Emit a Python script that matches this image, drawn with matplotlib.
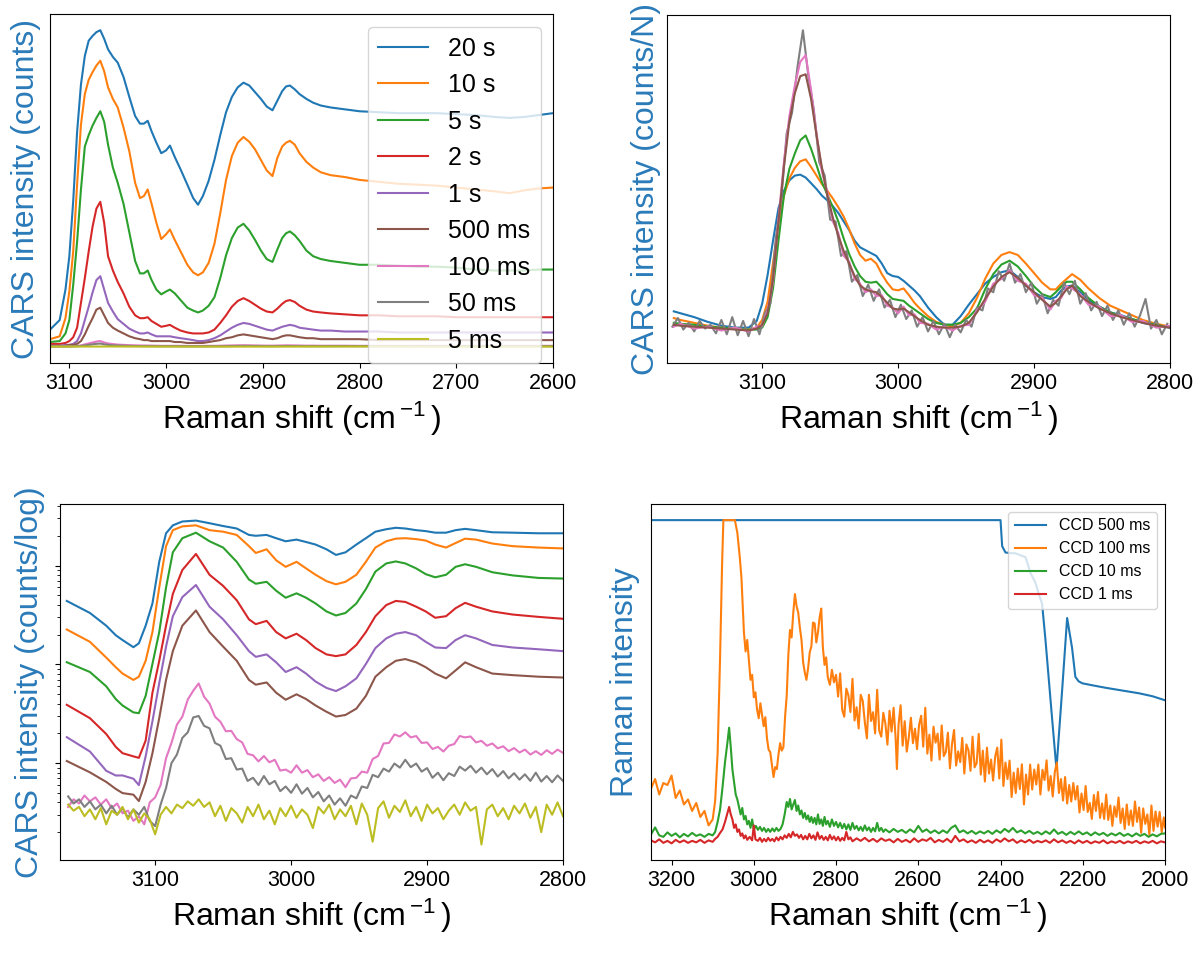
import matplotlib
matplotlib.use("Agg")
import matplotlib.pyplot as plt
from matplotlib.ticker import NullFormatter

plt.rcParams['font.family'] = ['Liberation Sans', 'DejaVu Sans']
plt.rcParams['mathtext.fontset'] = 'custom'
plt.rcParams['mathtext.rm'] = 'Liberation Sans'
plt.rcParams['mathtext.it'] = 'Liberation Sans:italic'
plt.rcParams['mathtext.bf'] = 'Liberation Sans:bold'

# ---------------- Panel 1 (CARS counts) ----------------
p1_x = [3120, 3110, 3104, 3100, 3096, 3092, 3088, 3084, 3080, 3076,
        3072, 3068, 3064, 3060, 3055, 3050, 3044, 3038, 3032, 3027,
        3023, 3019, 3015, 3010, 3005, 3000, 2996, 2991, 2985, 2978,
        2972, 2967, 2962, 2956, 2950, 2944, 2938, 2932, 2926, 2920,
        2914, 2908, 2902, 2896, 2890, 2885, 2880, 2876, 2872, 2867,
        2862, 2855, 2848, 2840, 2830, 2815, 2800, 2780, 2760, 2740,
        2720, 2700, 2680, 2660, 2645, 2630, 2615, 2600]
p1_20s = [18, 28, 60, 95, 153, 225, 275, 305, 321, 326,
          330, 332, 323, 312, 304, 298, 283, 262, 242, 234,
          234, 237, 226, 214, 203, 206, 211, 199, 186, 170,
          156, 149, 158, 174, 196, 222, 246, 262, 272, 277,
          274, 267, 260, 252, 248, 258, 268, 273, 274, 270,
          265, 260, 256, 253, 251, 249, 247, 246, 245, 245,
          245, 244, 243, 241, 240, 241, 243, 245]
p1_10s = [8, 11, 30, 58, 100, 170, 233, 265, 280, 288,
          295, 300, 289, 272, 260, 251, 230, 205, 172, 156,
          158, 165, 150, 130, 113, 118, 123, 112, 100, 86,
          78, 75, 78, 88, 108, 140, 175, 200, 214, 220,
          215, 207, 196, 185, 179, 198, 210, 214, 216, 212,
          203, 194, 188, 183, 180, 178, 175, 173, 171, 170,
          169, 167, 165, 163, 161, 164, 166, 167]
p1_5s = [5, 6, 14, 28, 65, 110, 165, 210, 222, 232,
         240, 247, 236, 212, 188, 172, 150, 120, 90, 77,
         77, 80, 70, 60, 55, 58, 60, 56, 49, 41,
         38, 36, 38, 43, 52, 72, 96, 114, 125, 129,
         122, 112, 101, 92, 89, 102, 114, 119, 121, 117,
         111, 101, 95, 92, 90, 88, 86, 86, 85, 84,
         84, 83, 81, 80, 80, 80, 81, 81]
p1_2s = [3, 3, 4, 6, 10, 20, 46, 72, 100, 126,
         145, 152, 130, 95, 80, 68, 56, 42, 33, 30,
         30, 31, 27, 24, 21, 22, 23, 20, 17, 15,
         14, 14, 14, 15, 18, 25, 33, 42, 48, 51,
         48, 44, 40, 37, 36, 40, 45, 48, 49, 47,
         43, 39, 37, 36, 35, 34, 33, 33, 32, 32,
         32, 31, 31, 31, 31, 31, 31, 31]
p1_1s = [1, 1, 2, 2, 3, 6, 14, 28, 42, 57,
         70, 74, 60, 46, 37, 29, 24, 19, 16, 14,
         14, 15, 13, 11, 11, 11, 11, 10, 9, 8,
         7, 6, 6, 7, 9, 12, 16, 20, 23, 25,
         24, 22, 20, 18, 17, 19, 21, 22, 23, 22,
         20, 19, 18, 17, 17, 16, 16, 16, 15, 15,
         15, 15, 15, 15, 15, 15, 15, 15]
p1_500ms = [1, 1, 1, 2, 2, 3, 6, 13, 22, 30,
            39, 41, 33, 25, 20, 17, 14, 11, 9, 8,
            7, 7, 6, 6, 6, 6, 6, 5, 5, 4,
            4, 4, 4, 5, 6, 7, 9, 10, 12, 13,
            12, 11, 10, 9, 8, 9, 11, 12, 12, 11,
            10, 9, 9, 8, 8, 8, 8, 7, 7, 7,
            7, 7, 7, 7, 7, 7, 7, 7]
p1_100ms = [0.5, 0.5, 0.5, 0.6, 0.7, 0.9, 1.5, 2.5, 3.5, 4.5,
            5.5, 6, 4.5, 3.5, 2.8, 2.3, 2, 1.7, 1.5, 1.4,
            1.3, 1.3, 1.2, 1.1, 1, 1, 1, 1, 1, 0.9,
            0.9, 0.9, 0.9, 1, 1, 1.1, 1.3, 1.4, 1.5, 1.6,
            1.5, 1.4, 1.3, 1.2, 1.2, 1.3, 1.4, 1.5, 1.5, 1.4,
            1.3, 1.2, 1.2, 1.1, 1.1, 1.1, 1, 1, 1, 1,
            1, 1, 1, 1, 1, 1, 1, 1]
p1_50ms = [0.4, 0.4, 0.4, 0.4, 0.5, 0.6, 0.9, 1.4, 2, 2.6,
           3.1, 3.4, 2.6, 2, 1.6, 1.3, 1.1, 0.9, 0.8, 0.7,
           0.7, 0.7, 0.7, 0.6, 0.6, 0.6, 0.6, 0.6, 0.5, 0.5,
           0.5, 0.5, 0.5, 0.5, 0.6, 0.6, 0.7, 0.8, 0.9, 0.9,
           0.9, 0.8, 0.8, 0.7, 0.7, 0.7, 0.8, 0.8, 0.8, 0.8,
           0.8, 0.7, 0.7, 0.7, 0.7, 0.7, 0.7, 0.7, 0.7, 0.7,
           0.7, 0.7, 0.7, 0.7, 0.7, 0.7, 0.7, 0.7]
p1_5ms_x = [3120, 3060, 3000, 2900, 2800, 2700, 2600]
p1_5ms = [0.2, 0.3, 0.2, 0.2, 0.3, 0.2, 0.2]
p1_labels = ['20 s', '10 s', '5 s', '2 s', '1 s', '500 ms', '100 ms', '50 ms', '5 ms']

# ---------------- Panel 2 (normalised) ----------------
p2_x = [3165, 3160, 3150, 3140, 3130, 3120, 3110, 3104, 3100, 3096,
        3092, 3088, 3084, 3080, 3076, 3072, 3068, 3064, 3060, 3056,
        3052, 3048, 3044, 3040, 3036, 3032, 3028, 3024, 3020, 3016,
        3012, 3008, 3004, 3000, 2996, 2992, 2988, 2984, 2978, 2972,
        2966, 2960, 2954, 2948, 2942, 2936, 2930, 2924, 2918, 2912,
        2906, 2900, 2894, 2888, 2884, 2880, 2876, 2872, 2866, 2860,
        2852, 2844, 2836, 2828, 2820, 2810, 2800]
p2_20s = [54, 52, 48, 43, 39, 37, 37, 44, 62, 92,
          128, 162, 180, 191, 196, 197, 194, 188, 182, 175,
          170, 164, 157, 148, 139, 128, 121, 118, 115, 112,
          104, 94, 91, 90, 86, 81, 76, 70, 58, 48,
          40, 40, 49, 61, 72, 83, 90, 95, 97, 90,
          81, 74, 69, 67, 69, 76, 80, 81, 74, 66,
          59, 53, 50, 46, 42, 39, 37]
p2_10s = [47, 45, 42, 39, 37, 36, 35, 37, 45, 64,
          105, 145, 175, 193, 204, 211, 213, 205, 196, 187,
          180, 172, 163, 153, 140, 125, 113, 107, 109, 104,
          93, 84, 77, 76, 78, 71, 63, 57, 49, 43,
          40, 38, 42, 52, 68, 88, 104, 113, 116, 113,
          104, 94, 84, 77, 77, 83, 88, 93, 87, 78,
          68, 60, 55, 50, 45, 41, 38]
p2_5s = [42, 41, 40, 38, 37, 36, 35, 35, 37, 48,
         78, 128, 175, 203, 219, 233, 238, 224, 207, 189,
         176, 163, 148, 130, 114, 101, 91, 85, 84, 85,
         79, 72, 67, 66, 65, 60, 56, 52, 46, 42,
         40, 40, 42, 48, 57, 77, 93, 103, 107, 101,
         91, 80, 72, 69, 74, 80, 85, 85, 77, 68,
         59, 53, 49, 46, 43, 40, 37]
p2_500ms = [40, 39, 38, 37, 36, 35, 34, 36, 40, 52,
            88, 148, 205, 252, 282, 300, 302, 276, 238, 204,
            175, 152, 133, 117, 104, 91, 81, 77, 75, 74,
            69, 63, 57, 56, 57, 53, 49, 45, 40, 38,
            37, 37, 38, 42, 53, 67, 80, 90, 95, 89,
            81, 74, 66, 59, 63, 70, 77, 81, 70, 64,
            57, 52, 48, 45, 42, 39, 37]
p2_100ms = [38, 41, 36, 38, 34, 37, 33, 38, 39, 55,
            85, 150, 210, 258, 290, 315, 322, 285, 240, 200,
            178, 148, 136, 112, 106, 88, 83, 74, 77, 70,
            71, 60, 58, 52, 59, 50, 51, 42, 41, 35,
            38, 34, 39, 40, 55, 64, 83, 88, 97, 86,
            83, 71, 68, 56, 65, 68, 80, 78, 72, 61,
            59, 49, 50, 43, 44, 37, 39]
p2_50ms = [(3166, 38), (3162, 47), (3158, 35), (3154, 42), (3150, 33), (3146, 44),
           (3142, 36), (3138, 40), (3134, 31), (3130, 45), (3126, 30), (3122, 48),
           (3118, 29), (3114, 44), (3110, 28), (3106, 46), (3102, 30), (3098, 52),
           (3094, 62), (3090, 130), (3086, 170), (3082, 240), (3078, 262), (3074, 310),
           (3070, 348), (3066, 300), (3062, 265), (3058, 210), (3054, 196), (3050, 150),
           (3046, 148), (3042, 112), (3038, 117), (3034, 85), (3030, 92), (3026, 70),
           (3022, 82), (3018, 65), (3014, 77), (3010, 58), (3006, 66), (3002, 48),
           (2998, 61), (2994, 46), (2990, 55), (2986, 38), (2982, 48), (2978, 33),
           (2974, 44), (2970, 30), (2966, 41), (2962, 27), (2958, 40), (2954, 32),
           (2950, 45), (2946, 38), (2942, 58), (2938, 55), (2934, 78), (2930, 74),
           (2926, 96), (2922, 86), (2918, 104), (2914, 84), (2910, 93), (2906, 74),
           (2902, 84), (2898, 62), (2894, 72), (2890, 52), (2886, 66), (2882, 60),
           (2878, 84), (2874, 72), (2870, 86), (2866, 62), (2862, 73), (2858, 55),
           (2854, 64), (2850, 49), (2846, 60), (2842, 45), (2838, 55), (2834, 40),
           (2830, 52), (2826, 38), (2822, 50), (2818, 67), (2814, 36), (2810, 45),
           (2806, 30), (2802, 41)]

# ---------------- Panel 3 (log counts) ----------------
p3_x = [3165, 3148, 3136, 3129, 3124, 3116, 3112, 3107, 3102, 3097,
        3092, 3087, 3080, 3070, 3060, 3050, 3040, 3031, 3026, 3018,
        3011, 3004, 2996, 2989, 2982, 2974, 2967, 2960, 2952, 2945,
        2938, 2930, 2923, 2916, 2908, 2901, 2894, 2886, 2879, 2872,
        2864, 2852, 2837, 2818, 2800]
p3_20s = [4380, 3310, 2460, 1970, 1760, 1490, 1630, 2460, 4130, 10900,
          21200, 25500, 27900, 28500, 26800, 25100, 23700, 20400, 20000, 20400,
          18900, 17600, 18300, 17300, 16300, 14600, 12800, 13600, 16300, 18900,
          22000, 23300, 24100, 23700, 22800, 22300, 21500, 21500, 22800, 23500,
          22800, 21700, 21500, 21200, 21200]
p3_10s = [2250, 1690, 1170, 935, 806, 695, 749, 1085, 2120, 5990,
          15700, 22800, 24900, 25500, 22800, 22000, 20400, 15700, 13400, 14600,
          11300, 9700, 10900, 9350, 8060, 6950, 6450, 6840, 8060, 10900,
          15200, 17600, 18700, 18900, 18500, 17900, 16300, 15200, 16900, 18700,
          18300, 16700, 15700, 15200, 14900]
p3_5s = [1050, 836, 599, 445, 383, 326, 320, 479, 1010, 2120,
         5990, 13600, 18900, 21500, 17600, 15200, 10900, 7210, 6540, 6840,
         5560, 4720, 5230, 4720, 4130, 3430, 3120, 3310, 4130, 5770,
         8680, 10500, 11000, 10500, 9350, 8180, 7600, 8060, 9700, 10300,
         9700, 8550, 7940, 7490, 7380]
p3_2s = [389, 285, 197, 146, 126, 117, 113, 169, 516, 1085,
         2460, 5160, 9010, 13100, 8060, 6220, 4450, 2850, 2550, 2750,
         2120, 1830, 2040, 1760, 1460, 1260, 1210, 1260, 1570, 2120,
         3070, 3980, 4380, 4280, 3830, 3430, 2960, 3070, 3700, 4190,
         3830, 3430, 3190, 3020, 2890]
p3_1s = [183, 131, 83.6, 74.9, 75, 69.5, 59.9, 117, 265, 645,
         1510, 3070, 4790, 6350, 3830, 2850, 1970, 1360, 1190, 1260,
         1047, 836, 935, 806, 669, 577, 536, 599, 721, 1007,
         1460, 1830, 2040, 2120, 1970, 1690, 1480, 1460, 1760, 1970,
         1830, 1570, 1480, 1420, 1360]
p3_500ms = [105, 80.6, 64.5, 54.8, 49.7, 47.9, 41.3, 64.5, 126, 285,
            695, 1360, 2460, 3510, 2120, 1510, 1085, 695, 622, 655,
            516, 438, 497, 445, 383, 331, 296, 307, 356, 479,
            749, 935, 1085, 1130, 1047, 935, 806, 721, 868, 1047,
            935, 806, 777, 749, 735]
p3_100ms = [(3164, 36), (3160, 43), (3156, 39), (3152, 47), (3148, 41), (3144, 45),
            (3140, 38), (3136, 43), (3132, 35), (3128, 39), (3124, 31), (3120, 33),
            (3116, 26), (3112, 29), (3108, 24), (3104, 40), (3100, 45), (3096, 60),
            (3092, 112), (3088, 160), (3084, 245), (3080, 295), (3076, 440), (3072, 540),
            (3068, 640), (3064, 470), (3060, 400), (3056, 295), (3052, 262), (3048, 210),
            (3044, 212), (3040, 175), (3036, 162), (3032, 124), (3028, 120), (3024, 104),
            (3020, 118), (3016, 102), (3012, 108), (3008, 84), (3004, 86), (3000, 80),
            (2996, 95), (2992, 80), (2988, 85), (2984, 72), (2980, 77), (2976, 66),
            (2972, 72), (2968, 63), (2964, 68), (2960, 57), (2956, 70), (2952, 71),
            (2948, 82), (2944, 80), (2940, 110), (2936, 118), (2932, 158), (2928, 160),
            (2924, 195), (2920, 186), (2916, 205), (2912, 182), (2908, 188), (2904, 160),
            (2900, 162), (2896, 139), (2892, 146), (2888, 131), (2884, 150), (2880, 156),
            (2876, 188), (2872, 182), (2868, 186), (2864, 162), (2860, 168), (2856, 150),
            (2852, 158), (2848, 141), (2844, 148), (2840, 132), (2836, 142), (2832, 128),
            (2828, 137), (2824, 122), (2820, 132), (2816, 121), (2812, 135), (2808, 124),
            (2804, 137), (2800, 127)]
p3_50ms = [(3164, 46), (3160, 39), (3156, 43), (3152, 36), (3148, 41), (3144, 34),
           (3140, 38), (3136, 31), (3132, 37), (3128, 30), (3124, 35), (3120, 28),
           (3116, 34), (3112, 30), (3108, 36), (3104, 26), (3100, 23), (3096, 38),
           (3092, 56), (3088, 100), (3084, 122), (3080, 180), (3076, 205), (3072, 290),
           (3068, 300), (3064, 238), (3060, 225), (3056, 160), (3052, 150), (3048, 110),
           (3044, 112), (3040, 86), (3036, 88), (3032, 66), (3028, 71), (3024, 60),
           (3020, 74), (3016, 61), (3012, 66), (3008, 52), (3004, 58), (3000, 50),
           (2996, 61), (2992, 49), (2988, 56), (2984, 45), (2980, 51), (2976, 41),
           (2972, 47), (2968, 38), (2964, 44), (2960, 37), (2956, 47), (2952, 44),
           (2948, 58), (2944, 56), (2940, 76), (2936, 72), (2932, 88), (2928, 82),
           (2924, 99), (2920, 90), (2916, 108), (2912, 91), (2908, 99), (2904, 82),
           (2900, 89), (2896, 71), (2892, 80), (2888, 67), (2884, 79), (2880, 74),
           (2876, 92), (2872, 84), (2868, 94), (2864, 80), (2860, 90), (2856, 77),
           (2852, 87), (2848, 73), (2844, 83), (2840, 70), (2836, 79), (2832, 68),
           (2828, 77), (2824, 66), (2820, 80), (2816, 65), (2812, 74), (2808, 64),
           (2804, 75), (2800, 66)]
p3_5ms = [(3164, 38), (3160, 33), (3156, 36), (3152, 29), (3148, 34), (3144, 27),
          (3140, 35), (3136, 24), (3132, 33), (3128, 30), (3124, 36), (3120, 27),
          (3116, 34), (3112, 25), (3108, 31), (3104, 27), (3100, 19), (3096, 30),
          (3092, 36), (3088, 31), (3084, 38), (3080, 35), (3076, 41), (3072, 37),
          (3068, 43), (3064, 36), (3060, 40), (3056, 29), (3052, 37), (3048, 26),
          (3044, 35), (3040, 31), (3036, 25), (3032, 36), (3028, 29), (3024, 38),
          (3020, 27), (3016, 33), (3012, 24), (3008, 35), (3004, 29), (3000, 37),
          (2996, 28), (2992, 34), (2988, 30), (2984, 22), (2980, 36), (2976, 31),
          (2972, 38), (2968, 27), (2964, 34), (2960, 29), (2956, 37), (2952, 24),
          (2948, 39), (2944, 30), (2940, 16), (2936, 35), (2932, 41), (2928, 28),
          (2924, 37), (2920, 32), (2916, 42), (2912, 29), (2908, 36), (2904, 26),
          (2900, 38), (2896, 31), (2892, 35), (2888, 27), (2884, 33), (2880, 38),
          (2876, 30), (2872, 40), (2868, 33), (2864, 36), (2860, 15), (2856, 34),
          (2852, 38), (2848, 29), (2844, 35), (2840, 27), (2836, 37), (2832, 31),
          (2828, 39), (2824, 28), (2820, 36), (2816, 20), (2812, 38), (2808, 30),
          (2804, 40), (2800, 29)]

# ---------------- Panel 4 (CCD Raman) ----------------
p4_500ms = [(3250, 65535), (2400, 65535), (2396, 60300), (2388, 59050), (2376, 58900),
            (2364, 58900), (2352, 58500), (2339, 58100), (2327, 54900), (2315, 53000),
            (2307, 50700), (2299, 48800), (2291, 41800), (2274, 25200), (2264, 15600),
            (2250, 31600), (2238, 45900), (2226, 39900), (2218, 34100), (2210, 33200),
            (2201, 32800), (2170, 32300), (2144, 31900), (2100, 31300), (2063, 30800),
            (2030, 30200), (2000, 29400)]
p4_100ms = [(3250, 11700), (3240, 13600), (3230, 10500), (3220, 12800), (3210, 12400),
            (3200, 14300), (3190, 9800), (3180, 11300), (3170, 8500), (3160, 9500),
            (3150, 7200), (3140, 8800), (3130, 6000), (3120, 7200), (3110, 4300),
            (3100, 5500), (3094, 9200), (3088, 18800), (3082, 38000), (3077, 57100),
            (3074, 65535), (3060, 65535), (3046, 65535), (3040, 63000), (3034, 58000),
            (3030, 53900), (3024, 43000), (3020, 39200), (3016, 41500), (3012, 37500),
            (3008, 33500), (3004, 34500), (3000, 30000), (2996, 31000), (2992, 27500),
            (2988, 25800), (2984, 28800), (2980, 26500), (2976, 24200), (2972, 26000),
            (2968, 21800), (2964, 19500), (2960, 19000), (2956, 16500), (2952, 14000),
            (2948, 16000), (2944, 15600), (2940, 18500), (2936, 20800), (2932, 19300),
            (2928, 20000), (2924, 26000), (2920, 30300), (2916, 38500), (2912, 43500),
            (2908, 42000), (2904, 47000), (2900, 50700), (2896, 48300), (2892, 47000),
            (2888, 44000), (2884, 41500), (2880, 37000), (2876, 35000), (2872, 33500),
            (2868, 35800), (2864, 39000), (2860, 40200), (2856, 45000), (2852, 44800),
            (2848, 41000), (2844, 43000), (2840, 46000), (2836, 47800), (2832, 40000),
            (2828, 36500), (2824, 38000), (2820, 34000), (2815, 32500), (2810, 35500),
            (2805, 33000),
            (2800, 34500), (2795, 30150), (2790, 34800), (2785, 27450), (2780, 26100),
            (2775, 31750), (2770, 30400), (2765, 27050), (2760, 33700), (2755, 25350),
            (2750, 28000), (2745, 23750), (2740, 30500), (2735, 29250), (2730, 25000),
            (2725, 21750), (2720, 30500), (2715, 25250), (2710, 27000), (2705, 22750),
            (2700, 31500), (2695, 23300), (2690, 22100), (2685, 26900), (2680, 24700),
            (2675, 20500), (2670, 27300), (2665, 23100), (2660, 27900), (2655, 21700),
            (2652, 15600), (2648, 24500), (2643, 28400), (2638, 20300), (2633, 25200),
            (2628, 19100), (2623, 22000), (2618, 25900), (2613, 20800), (2608, 23700),
            (2603, 19600), (2598, 24500), (2593, 26300), (2588, 20100), (2583, 27900),
            (2578, 18700), (2573, 22500), (2568, 17300), (2563, 24100), (2558, 20900),
            (2553, 22700), (2548, 17500), (2543, 24350), (2538, 18200), (2533, 19050),
            (2528, 22900), (2523, 15750), (2518, 20600), (2513, 23450), (2508, 16300),
            (2503, 19150), (2498, 17000), (2493, 21850), (2488, 14700), (2483, 20550),
            (2478, 19400), (2473, 15250), (2468, 22100), (2463, 15950), (2458, 16800),
            (2453, 22650), (2448, 14500), (2443, 19300), (2438, 13100), (2433, 19900),
            (2428, 14700), (2423, 17500), (2418, 13300), (2413, 18100), (2408, 19900),
            (2403, 13700), (2398, 21500), (2393, 12200), (2388, 16900), (2383, 13600),
            (2378, 17300), (2373, 10000), (2368, 14900), (2363, 10800), (2358, 15700),
            (2353, 11600), (2348, 16550), (2343, 8500), (2338, 14500), (2333, 10500),
            (2328, 16500), (2323, 11500), (2318, 15500), (2313, 12500), (2308, 16500),
            (2303, 10500), (2298, 15450), (2293, 13400), (2288, 17350), (2283, 11300),
            (2278, 14200), (2273, 10100), (2268, 15000), (2263, 16900), (2258, 10800),
            (2253, 13600), (2248, 9300), (2243, 14000), (2238, 8700), (2233, 12400),
            (2228, 9100), (2223, 12800), (2218, 9500), (2213, 12200), (2208, 6900),
            (2203, 10700), (2198, 7400), (2193, 12200), (2188, 7000), (2183, 8800),
            (2178, 5600), (2173, 10400), (2168, 7200), (2163, 11000), (2158, 5800),
            (2153, 8700), (2148, 5600), (2143, 10500), (2138, 5400), (2133, 8300),
            (2128, 4200), (2123, 8100), (2118, 6000), (2113, 9900), (2108, 4800),
            (2103, 7700), (2098, 3600), (2093, 8500), (2088, 4400), (2083, 7300),
            (2078, 4200), (2073, 9100), (2068, 5000), (2063, 7900), (2058, 2800),
            (2053, 7700), (2048, 4600), (2043, 6500), (2038, 2400), (2033, 8300),
            (2028, 3200), (2023, 7100), (2018, 4050), (2013, 7000), (2008, 2950),
            (2003, 5900), (2000, 3900)]
p4_10ms = [(3250, 2500), (3240, 3900), (3230, 2300), (3220, 2000), (3210, 2900), (3200, 2200),
           (3190, 2700), (3180, 1900), (3170, 2600), (3160, 2100), (3150, 2800), (3140, 2200),
           (3130, 2500), (3120, 2000), (3110, 2600), (3100, 2300), (3094, 3000), (3088, 5000),
           (3082, 7500), (3076, 12000), (3070, 17000), (3064, 21000), (3060, 23900), (3056, 20000),
           (3052, 15500), (3048, 13000), (3044, 10500), (3040, 9500), (3036, 8000), (3032, 6500),
           (3028, 7800), (3024, 5500), (3020, 6200), (3016, 4500), (3012, 5200), (3008, 3800),
           (3004, 5500), (3000, 3500), (2995, 4200), (2990, 3400), (2985, 4000), (2980, 3200),
           (2975, 3800), (2970, 3000), (2965, 3600), (2960, 3000), (2955, 3700), (2950, 3100),
           (2945, 3800), (2940, 3200), (2935, 3600), (2930, 4500), (2925, 6500), (2920, 9000),
           (2916, 8000), (2912, 9600), (2908, 7500), (2904, 8500), (2900, 9400), (2896, 7200),
           (2892, 8300), (2888, 6500), (2884, 7300), (2880, 5800), (2876, 6800), (2872, 5500),
           (2868, 6300), (2864, 5000), (2860, 6000), (2856, 4800), (2852, 5800), (2848, 4500),
           (2844, 6500), (2840, 4600), (2836, 5500), (2832, 4200), (2828, 6000), (2824, 4500),
           (2820, 5200), (2815, 4000), (2810, 5500), (2805, 4200), (2800, 5000), (2795, 3900),
           (2790, 4800), (2785, 3700), (2780, 4600), (2775, 3500), (2770, 4500), (2765, 3400),
           (2760, 4800), (2755, 3600), (2750, 4200), (2745, 3300), (2740, 4000), (2735, 3200),
           (2730, 4300), (2725, 3300), (2720, 3900), (2715, 3000), (2710, 3800), (2705, 3100),
           (2700, 4800), (2695, 3200), (2690, 3800), (2685, 3000), (2680, 3500), (2670, 2900),
           (2660, 3600), (2650, 3000), (2640, 3400), (2630, 2800), (2620, 3500), (2610, 2900),
           (2600, 4200), (2590, 3000), (2580, 3500), (2570, 2800), (2560, 3300), (2550, 2700),
           (2540, 3300), (2530, 2800), (2520, 3800), (2510, 4300), (2500, 2900), (2490, 3300),
           (2480, 2700), (2470, 3200), (2460, 2600), (2450, 3100), (2440, 2700), (2430, 3200),
           (2420, 2600), (2410, 3300), (2400, 2800), (2390, 3600), (2380, 3000), (2370, 3800),
           (2360, 2900), (2350, 3300), (2340, 2700), (2330, 3200), (2320, 2600), (2310, 3000),
           (2300, 2500), (2290, 3100), (2280, 2600), (2270, 3500), (2260, 2600), (2250, 3000),
           (2240, 2400), (2230, 3000), (2220, 2500), (2210, 3100), (2200, 2500), (2190, 2900),
           (2180, 2300), (2170, 2900), (2160, 2400), (2150, 2800), (2140, 2200), (2130, 2700),
           (2120, 2300), (2110, 2800), (2100, 2200), (2090, 2600), (2080, 2100), (2070, 2700),
           (2060, 2200), (2050, 2600), (2040, 2000), (2030, 2500), (2020, 2100), (2010, 2600),
           (2000, 2700)]
p4_1ms = [(3250, 1300), (3240, 900), (3230, 1500), (3220, 800), (3210, 1200), (3200, 700),
          (3190, 1400), (3180, 900), (3170, 1300), (3160, 800), (3150, 1200), (3140, 900),
          (3130, 1400), (3120, 800), (3110, 1300), (3100, 1000), (3094, 1600), (3088, 2000),
          (3082, 2800), (3076, 3500), (3070, 5000), (3064, 6800), (3060, 8000), (3056, 6500),
          (3052, 5500), (3048, 3800), (3044, 4500), (3040, 3000), (3036, 3500), (3032, 2200),
          (3028, 2700), (3024, 1700), (3020, 2300), (3016, 1400), (3010, 2000), (3004, 1300),
          (3000, 4300), (2996, 1500), (2990, 1200), (2985, 1800), (2980, 1000), (2975, 1600),
          (2970, 1100), (2965, 1800), (2960, 1200), (2955, 1600), (2950, 1100), (2945, 1900),
          (2940, 1300), (2935, 2000), (2930, 1500), (2925, 2300), (2920, 1800), (2915, 2600),
          (2910, 1900), (2905, 3000), (2900, 2200), (2895, 2500), (2890, 1800), (2885, 2400),
          (2880, 1500), (2875, 2200), (2870, 1500), (2865, 2600), (2860, 1700), (2855, 2300),
          (2850, 1400), (2845, 2900), (2840, 1600), (2835, 2200), (2830, 1400), (2825, 2000),
          (2820, 1300), (2815, 2400), (2810, 1500), (2805, 2100), (2800, 1300), (2795, 2000),
          (2790, 1200), (2785, 1800), (2780, 1300), (2775, 3000), (2770, 1500), (2765, 1900),
          (2760, 1100), (2750, 1700), (2740, 1200), (2730, 1800), (2720, 1100), (2710, 1600),
          (2700, 1000), (2690, 1700), (2680, 1200), (2670, 1500), (2660, 900), (2650, 1600),
          (2640, 1000), (2630, 1400), (2620, 900), (2610, 1700), (2600, 1000), (2590, 1500),
          (2580, 1200), (2570, 1800), (2560, 900), (2550, 1400), (2540, 1000), (2530, 1600),
          (2520, 900), (2510, 2200), (2500, 1100), (2490, 1500), (2480, 900), (2470, 1300),
          (2460, 800), (2450, 1400), (2440, 900), (2430, 1300), (2420, 800), (2410, 1500),
          (2400, 1000), (2390, 1700), (2380, 1100), (2370, 1500), (2360, 800), (2350, 1300),
          (2340, 900), (2330, 1400), (2320, 800), (2310, 1200), (2300, 900), (2290, 1300),
          (2280, 800), (2270, 1500), (2260, 900), (2250, 1300), (2240, 800), (2230, 1200),
          (2220, 700), (2210, 1300), (2200, 800), (2190, 1200), (2180, 700), (2170, 1100),
          (2160, 800), (2150, 1300), (2140, 700), (2130, 1100), (2120, 800), (2110, 1200),
          (2100, 700), (2090, 1100), (2080, 800), (2070, 1200), (2060, 700), (2050, 1100),
          (2040, 800), (2030, 1200), (2020, 700), (2010, 1100), (2000, 900)]
p4_labels = ['CCD 500 ms', 'CCD 100 ms', 'CCD 10 ms', 'CCD 1 ms']

# ---------------- style ----------------
C = ['#1f77b4', '#ff7f0e', '#2ca02c', '#d62728', '#9467bd',
     '#8c564b', '#e377c2', '#7f7f7f', '#bcbd22']
LABEL_BLUE = '#2b7bba'
XLAB = r'Raman shift (cm$\,^{-1}\,$)'
LW = 1.5
TICK_FS = 15.5
LAB_FS = 23


def unzip(pairs):
    return [p[0] for p in pairs], [p[1] for p in pairs]


W, H = 1198, 958
fig = plt.figure(figsize=(W / 100, H / 100), dpi=100)


def add_axes(l, t, r, b):
    return fig.add_axes([l / W, 1 - b / H, (r - l) / W, (b - t) / H])


ax1 = add_axes(50, 14, 553, 363)
ax2 = add_axes(667, 15, 1170, 363)
ax3 = add_axes(60, 504, 563, 860)
ax4 = add_axes(651, 504, 1165, 860)

# Panel 1
p1_series = [p1_20s, p1_10s, p1_5s, p1_2s, p1_1s, p1_500ms, p1_100ms, p1_50ms]
for ys, c, lab in zip(p1_series, C, p1_labels):
    ax1.plot(p1_x, ys, color=c, lw=LW, label=lab)
ax1.plot(p1_5ms_x, p1_5ms, color=C[8], lw=LW, label=p1_labels[8])
ax1.set_xlim(3120, 2600)
ax1.set_ylim(-17, 349)
ax1.set_xticks([3100, 3000, 2900, 2800, 2700, 2600])
ax1.set_yticks([])
ax1.set_ylabel('CARS intensity (counts)', color=LABEL_BLUE, fontsize=LAB_FS)
ax1.yaxis.set_label_coords(-0.018, 0.5)
ax1.legend(loc='upper right', fontsize=18)

# Panel 2
ax2.plot(p2_x, p2_20s, color=C[0], lw=LW)
ax2.plot(p2_x, p2_10s, color=C[1], lw=LW)
ax2.plot(p2_x, p2_5s, color=C[2], lw=LW)
gx, gy = unzip(p2_50ms)
ax2.plot(gx, gy, color=C[7], lw=LW)
ax2.plot(p2_x, p2_100ms, color=C[6], lw=LW)
ax2.plot(p2_x, p2_500ms, color=C[5], lw=LW)
ax2.set_xlim(3170, 2800)
ax2.set_ylim(0, 364)
ax2.set_xticks([3100, 3000, 2900, 2800])
ax2.set_yticks([])
ax2.set_ylabel('CARS intensity (counts/N)', color=LABEL_BLUE, fontsize=LAB_FS)
ax2.yaxis.set_label_coords(-0.011, 0.5)

# Panel 3
p3_series = [p3_20s, p3_10s, p3_5s, p3_2s, p3_1s, p3_500ms]
for ys, c in zip(p3_series, C):
    ax3.plot(p3_x, ys, color=c, lw=LW)
for pairs, c in zip([p3_100ms, p3_50ms, p3_5ms], C[6:]):
    xx, yy = unzip(pairs)
    ax3.plot(xx, yy, color=c, lw=LW)
ax3.set_yscale('log')
ax3.set_xlim(3170, 2800)
ax3.set_ylim(10.45, 41950)
ax3.set_xticks([3100, 3000, 2900, 2800])
ax3.yaxis.set_major_formatter(NullFormatter())
ax3.yaxis.set_minor_formatter(NullFormatter())
ax3.set_ylabel('CARS intensity (counts/log)', color=LABEL_BLUE, fontsize=LAB_FS)
ax3.yaxis.set_label_coords(-0.030, 0.5)

# Panel 4
for pairs, c, lab in zip([p4_500ms, p4_100ms, p4_10ms, p4_1ms], C[:4], p4_labels):
    xx, yy = unzip(pairs)
    ax4.plot(xx, yy, color=c, lw=LW, label=lab)
ax4.set_xlim(3250, 2000)
ax4.set_ylim(-2640, 68770)
ax4.set_xticks([3200, 3000, 2800, 2600, 2400, 2200, 2000])
ax4.set_yticks([])
ax4.set_ylabel('Raman intensity', color=LABEL_BLUE, fontsize=LAB_FS)
ax4.yaxis.set_label_coords(-0.021, 0.5)
ax4.legend(loc='upper right', fontsize=11.5)

for ax in (ax1, ax2, ax3, ax4):
    ax.set_xlabel(XLAB, fontsize=LAB_FS)
    ax.tick_params(axis='both', labelsize=TICK_FS)

fig.savefig('out.png', dpi=100)
